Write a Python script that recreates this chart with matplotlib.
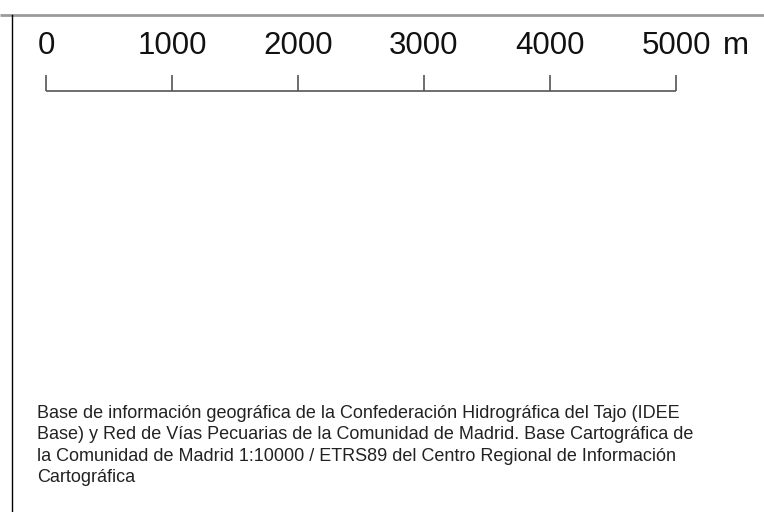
import matplotlib.pyplot as plt

# scale bar values (metres)
tick_values = [0, 1000, 2000, 3000, 4000, 5000]
tick_labels = ['0', '1000', '2000', '3000', '4000', '5000']
unit = 'm'
source_text = ('Base de información geográfica de la Confederación Hidrográfica del Tajo (IDEE\n'
               'Base) y Red de Vías Pecuarias de la Comunidad de Madrid. Base Cartográfica de\n'
               'la Comunidad de Madrid 1:10000 / ETRS89 del Centro Regional de Información\n'
               'Cartográfica')

plt.rcParams['font.family'] = ['Liberation Sans', 'DejaVu Sans']

fig = plt.figure(figsize=(7.64, 5.12), dpi=100)
ax = fig.add_axes([0, 0, 1, 1])
ax.axis('off')

# 0 m at x=46 px, 5000 m at x=676 px
m_per_px = 5000 / 630
ax.set_xlim(-46 * m_per_px, (764 - 46) * m_per_px)
ax.set_ylim(512, 0)  # y in pixels, top down

def px(x):
    return (x - 46) * m_per_px

# frame lines
ax.plot([px(0), px(764)], [14.5, 14.5], color='#9a9a9a', lw=2, solid_capstyle='butt')
ax.plot([px(11.5), px(11.5)], [15, 512], color='black', lw=1)

# scale bar
ax.plot([tick_values[0], tick_values[-1]], [90.5, 90.5], color='#555555', lw=1.2,
        solid_capstyle='butt')
for v, lab in zip(tick_values, tick_labels):
    ax.plot([v, v], [75, 90.5], color='#555555', lw=1.2, solid_capstyle='butt')
    ax.text(v, 45.5, lab, ha='center', va='center', fontsize=22.5, color='#111111')
ax.text(tick_values[-1] + 47 * m_per_px, 45.5, unit, ha='left', va='center',
        fontsize=22.5, color='#111111')

# source note
ax.text(px(37), 405, source_text, ha='left', va='top', fontsize=12.95,
        color='#222222', linespacing=1.34)

fig.savefig('out.png', dpi=100)
